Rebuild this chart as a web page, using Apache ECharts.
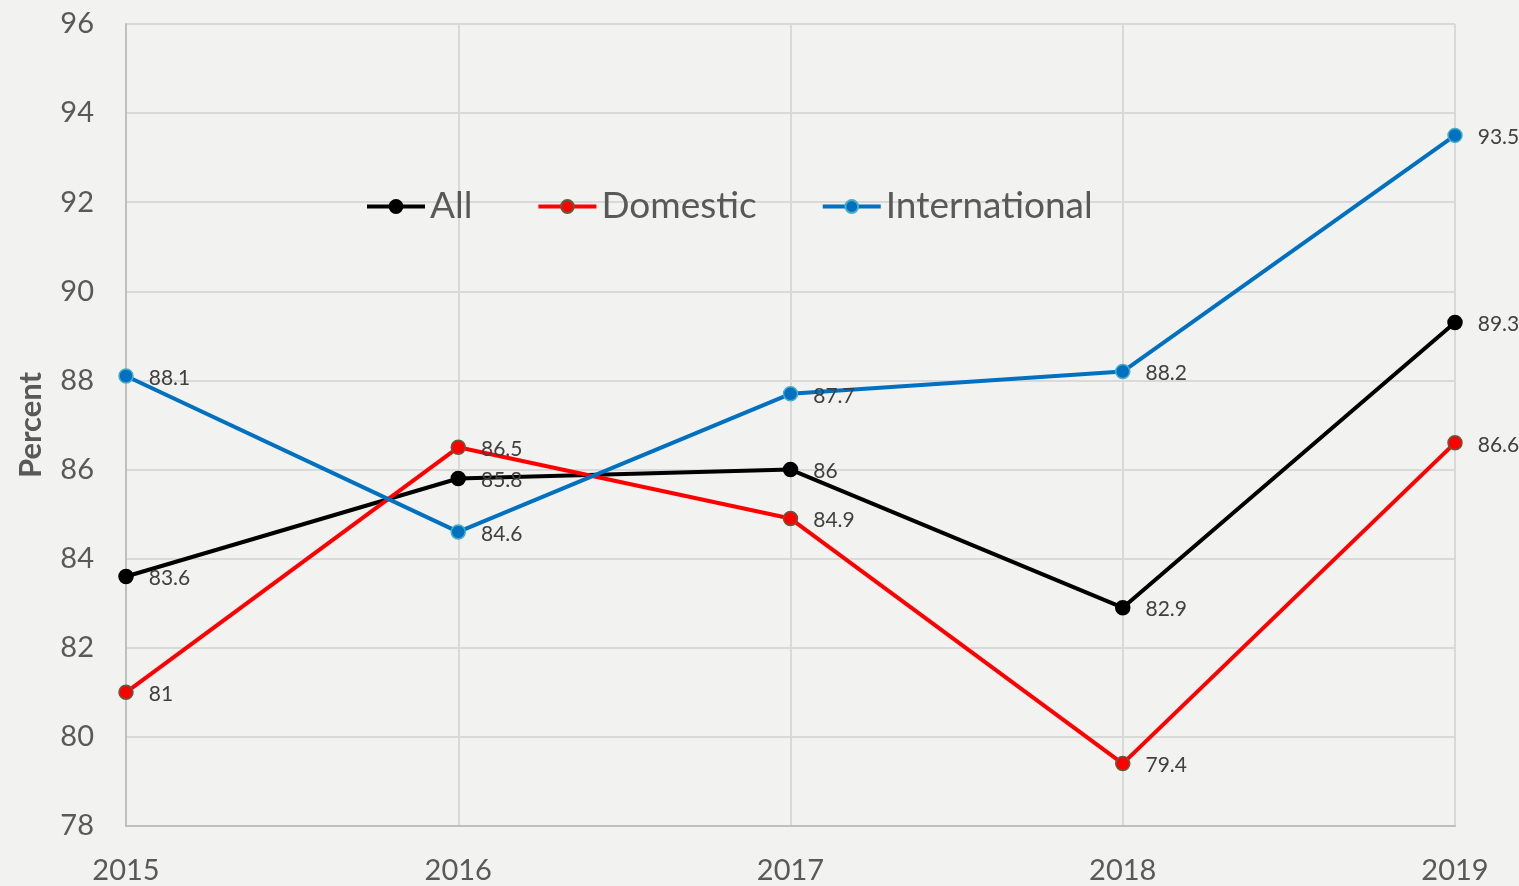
<!DOCTYPE html>
<html>
<head>
<meta charset="utf-8">
<script src="https://cdn.jsdelivr.net/npm/echarts@6/dist/echarts.min.js"></script>
<style>
  html, body { margin: 0; padding: 0; background: #f2f2f0; }
  #chart { width: 1519px; height: 886px; }
</style>
</head>
<body>
<div id="chart"></div>
<script>
const years = ["2015", "2016", "2017", "2018", "2019"];
const allData = [83.6, 85.8, 86, 82.9, 89.3];
const domesticData = [81, 86.5, 84.9, 79.4, 86.6];
const internationalData = [88.1, 84.6, 87.7, 88.2, 93.5];

const font = "Lato, 'Open Sans', sans-serif";

function makeSeries(name, data, color, border) {
  return {
    name: name,
    type: "line",
    data: data,
    symbol: "circle",
    symbolSize: 14,
    lineStyle: { width: 4, color: color },
    itemStyle: { color: color, borderColor: border, borderWidth: 1.5 },
    label: {
      show: true,
      position: "right",
      distance: 15,
      color: "#404040",
      fontSize: 21,
      fontFamily: font,
      offset: [0, 2]
    },
    emphasis: { disabled: true }
  };
}

const myChart = echarts.init(document.getElementById("chart"));
myChart.setOption({
  backgroundColor: "#f2f2f0",
  animation: false,
  textStyle: { fontFamily: font },
  // 图例
  legend: {
    top: 183,
    left: 360,
    itemWidth: 58,
    itemHeight: 16,
    itemGap: 64,
    lineStyle: { width: 4 },
    textStyle: { color: "#595959", fontSize: 37, fontFamily: font },
    data: ["All", "Domestic", "International"]
  },
  grid: { left: 126, right: 64, top: 24, bottom: 60 },
  xAxis: {
    type: "category",
    boundaryGap: false,
    data: years,
    axisLine: { show: true, lineStyle: { color: "#bfbfbf", width: 2 } },
    axisTick: { show: false },
    axisLabel: { color: "#595959", fontSize: 29, margin: 30, fontFamily: font },
    splitLine: { show: true, lineStyle: { color: "#d9d9d9", width: 2 } }
  },
  yAxis: {
    type: "value",
    min: 78,
    max: 96,
    interval: 2,
    name: "Percent",
    nameLocation: "middle",
    nameGap: 80,
    nameTextStyle: { color: "#595959", fontSize: 31, fontWeight: "bold", fontFamily: font },
    axisLine: { show: true, lineStyle: { color: "#bfbfbf", width: 2 } },
    axisTick: { show: false },
    axisLabel: { color: "#595959", fontSize: 29, margin: 32, fontFamily: font },
    splitLine: { show: true, lineStyle: { color: "#d9d9d9", width: 2 } }
  },
  series: [
    makeSeries("All", allData, "#000000", "#000000"),
    makeSeries("Domestic", domesticData, "#ff0000", "#5e5e3e"),
    makeSeries("International", internationalData, "#0070c0", "#4bacc6")
  ]
});
window.addEventListener("resize", function () {
  myChart.resize();
});
</script>
</body>
</html>
